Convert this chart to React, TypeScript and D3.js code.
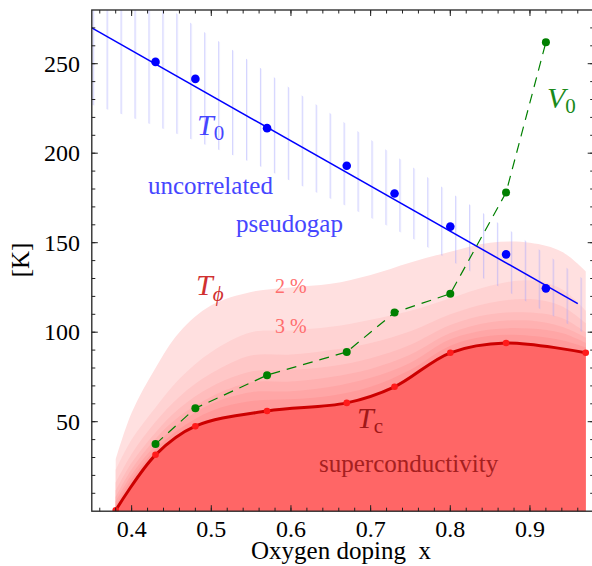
import * as d3 from "d3"

// measured points (Oxygen doping x)
const doping = [0.43, 0.48, 0.57, 0.67, 0.73, 0.8, 0.87, 0.92]
const t0 = [251, 241.5, 214, 193, 177.5, 159, 143.5, 124.5]
const v0 = [37.5, 57.5, 76, 89, 111, 121.5, 178, 262]

const tcDoping = [0.38, 0.43, 0.48, 0.57, 0.67, 0.73, 0.8, 0.87, 0.97]
const tc = [0.5, 31.5, 47.5, 56, 60.5, 69.5, 88.5, 94, 88.5]

// linear T0 fit
const t0FitX = [0.35, 0.96]
const t0FitY = [270, 116]

// hatched uncertainty band around T0
const bandX = [0.35, 0.4, 0.45, 0.5, 0.55, 0.6, 0.65, 0.7, 0.75, 0.8, 0.85, 0.9, 0.966]
const bandTop = [309, 294.5, 280, 265, 251, 236, 222, 207.5, 193, 178, 164, 149.5, 130]
const bandBottom = [227, 220, 212, 203.5, 195, 184.5, 174.5, 164, 153, 140, 128, 116, 100]

// fluctuation contours (T_phi), outermost 2 % first
const fluctX = [0.38, 0.4, 0.43, 0.46, 0.5, 0.55, 0.6, 0.65, 0.7, 0.75, 0.8, 0.85, 0.9, 0.94, 0.97]
const fluct2 = [29, 55, 80, 100, 115, 122.5, 125, 127, 132, 139, 145, 150, 150, 145, 134]
const fluct3 = [23, 40, 58, 74, 89, 100, 101, 103, 107, 112, 119, 126, 129, 124, 112]
const fluct4 = [16, 32, 50, 64, 77, 87, 87.5, 90, 94, 100.5, 110, 116.5, 118.5, 114.5, 105]
const fluct5 = [11.5, 27, 44, 57.5, 69.5, 78, 79, 81, 85.5, 93, 104, 110, 111, 108, 100]
const fluct6 = [8, 23.5, 40.5, 53, 64, 72, 72.5, 75, 79.5, 87.5, 99.5, 105.5, 106.5, 103, 97]
const fluct7 = [5.5, 20.5, 37, 49, 60, 66.5, 67, 69.5, 74.5, 83, 96, 101.5, 102, 99.5, 94]
const fluct8 = [3, 18, 34.5, 46, 56, 61.5, 62.5, 64.5, 69.5, 79, 92.5, 98, 98, 95.5, 91.5]
const fluctColors = ["#ffe0e0", "#ffd3d3", "#ffc7c7", "#ffbcbc", "#ffb1b1", "#ffa6a6", "#ff9b9b"]

const xTicks = [0.4, 0.5, 0.6, 0.7, 0.8, 0.9]
const yTicks = [50, 100, 150, 200, 250]

const W = 592
const H = 566
const font = "Liberation Serif"

export default function App() {
  const x = d3.scaleLinear().domain([0.35, 0.98]).range([91.8, 593.7])
  const y = d3.scaleLinear().domain([0, 280]).range([511.2, 10])
  const [x0, x1] = x.range()
  const [y0, y1] = y.range()

  const contours = [fluct2, fluct3, fluct4, fluct5, fluct6, fluct7, fluct8]
  const layerArea = d3
    .area<number>()
    .x((_, i) => x(fluctX[i]))
    .y0(y(0))
    .y1((d) => y(d))
    .curve(d3.curveCatmullRom)

  const tcArea = d3
    .area<number>()
    .x((_, i) => x(tcDoping[i]))
    .y0(y(0))
    .y1((d) => y(d))
    .curve(d3.curveCatmullRom)
  const tcLine = d3
    .line<number>()
    .x((_, i) => x(tcDoping[i]))
    .y((d) => y(d))
    .curve(d3.curveCatmullRom)

  const band = d3
    .area<number>()
    .x((d) => x(d))
    .y0((_, i) => y(bandBottom[i]))
    .y1((_, i) => y(bandTop[i]))
    .curve(d3.curveMonotoneX)

  const v0Line = d3
    .line<number>()
    .x((_, i) => x(doping[i]))
    .y((d) => y(d))

  const xMinor = d3.range(0.36, 0.981, 0.02)
  const yMinor = d3.range(10, 280, 10)

  return (
    <svg width={W} height={H} style={{ position: "absolute", left: 0, top: 0 }}>
      <defs>
        <clipPath id="plot">
          <rect x={x0} y={y1} width={x1 - x0} height={y0 - y1} />
        </clipPath>
        <pattern id="hatch" patternUnits="userSpaceOnUse" x={92.65} y={0} width={13.94} height={H}>
          <rect x={0} y={0} width={1.3} height={H} fill="#a0a0ff" />
        </pattern>
      </defs>

      <g clipPath="url(#plot)">
        {contours.map((c, i) => (
          <path key={i} d={layerArea(c) ?? ""} fill={fluctColors[i]} />
        ))}
        <path d={tcArea(tc) ?? ""} fill="#ff6666" />
        <path d={band(bandX) ?? ""} fill="url(#hatch)" opacity={0.45} />

        <line
          x1={x(t0FitX[0])}
          y1={y(t0FitY[0])}
          x2={x(t0FitX[1])}
          y2={y(t0FitY[1])}
          stroke="#0000ff"
          strokeWidth={1.5}
        />
        <path
          d={v0Line(v0) ?? ""}
          fill="none"
          stroke="#008000"
          strokeWidth={1.2}
          strokeDasharray="10,7"
        />
        <path d={tcLine(tc) ?? ""} fill="none" stroke="#cc0000" strokeWidth={3} />

        {t0.map((d, i) => (
          <circle key={`b${i}`} cx={x(doping[i])} cy={y(d)} r={4.3} fill="#0000ff" />
        ))}
        {v0.map((d, i) => (
          <circle key={`g${i}`} cx={x(doping[i])} cy={y(d)} r={4} fill="#008000" />
        ))}
        {tc.map((d, i) => (
          <circle key={`r${i}`} cx={x(tcDoping[i])} cy={y(d)} r={3.3} fill="#ff1a1a" />
        ))}
      </g>

      {/* labels */}
      <text x={197} y={135} fill="#4646ff" fontSize={30} fontStyle="italic" fontFamily={font}>
        T<tspan fontStyle="normal" fontSize={21} dy={5}>0</tspan>
      </text>
      <text x={148} y={194} fill="#4646ff" fontSize={25} fontFamily={font}>
        uncorrelated
      </text>
      <text x={236} y={232} fill="#4646ff" fontSize={25} fontFamily={font}>
        pseudogap
      </text>
      <text x={196} y={295} fill="#d03030" fontSize={30} fontStyle="italic" fontFamily={font}>
        T<tspan fontSize={21} dy={6}>ϕ</tspan>
      </text>
      <text x={275} y={293} fill="#ff6e6e" fontSize={20} fontFamily={font}>
        2 %
      </text>
      <text x={275} y={333} fill="#ff6e6e" fontSize={20} fontFamily={font}>
        3 %
      </text>
      <text x={357} y={428} fill="#a01818" fontSize={30} fontStyle="italic" fontFamily={font}>
        T<tspan fontStyle="normal" fontSize={21} dy={5}>c</tspan>
      </text>
      <text x={319} y={472} fill="#a52020" fontSize={25} fontFamily={font}>
        superconductivity
      </text>
      <text x={547} y={108} fill="#1a8a1a" fontSize={30} fontStyle="italic" fontFamily={font}>
        V<tspan fontStyle="normal" fontSize={21} dy={5}>0</tspan>
      </text>

      {/* frame and ticks */}
      <rect
        x={x0}
        y={y1}
        width={x1 - x0}
        height={y0 - y1}
        fill="none"
        stroke="#222"
        strokeWidth={1.3}
      />
      {xMinor.map((t, i) => (
        <g key={`xm${i}`} stroke="#222" strokeWidth={1}>
          <line x1={x(t)} x2={x(t)} y1={y0} y2={y0 - 3.5} />
          <line x1={x(t)} x2={x(t)} y1={y1} y2={y1 + 3.5} />
        </g>
      ))}
      {xTicks.map((t) => (
        <g key={`x${t}`}>
          <line x1={x(t)} x2={x(t)} y1={y0} y2={y0 - 6} stroke="#222" />
          <line x1={x(t)} x2={x(t)} y1={y1} y2={y1 + 6} stroke="#222" />
          <text x={x(t)} y={537} textAnchor="middle" fontSize={24} fontFamily={font}>
            {t.toFixed(1)}
          </text>
        </g>
      ))}
      {yMinor.map((t, i) => (
        <g key={`ym${i}`} stroke="#222" strokeWidth={1}>
          <line x1={x0} x2={x0 + 3.5} y1={y(t)} y2={y(t)} />
          <line x1={x1} x2={x1 - 3.5} y1={y(t)} y2={y(t)} />
        </g>
      ))}
      {yTicks.map((t) => (
        <g key={`y${t}`}>
          <line x1={x0} x2={x0 + 6} y1={y(t)} y2={y(t)} stroke="#222" />
          <line x1={x1} x2={x1 - 6} y1={y(t)} y2={y(t)} stroke="#222" />
          <text x={80} y={y(t) + 8} textAnchor="end" fontSize={24} fontFamily={font}>
            {t}
          </text>
        </g>
      ))}

      <text
        x={341}
        y={559}
        textAnchor="middle"
        fontSize={25}
        fontFamily={font}
        style={{ whiteSpace: "pre" }}
      >
        {"Oxygen doping  x"}
      </text>
      <text
        transform="translate(29,260) rotate(-90)"
        textAnchor="middle"
        fontSize={25}
        fontFamily={font}
      >
        [K]
      </text>
    </svg>
  )
}
